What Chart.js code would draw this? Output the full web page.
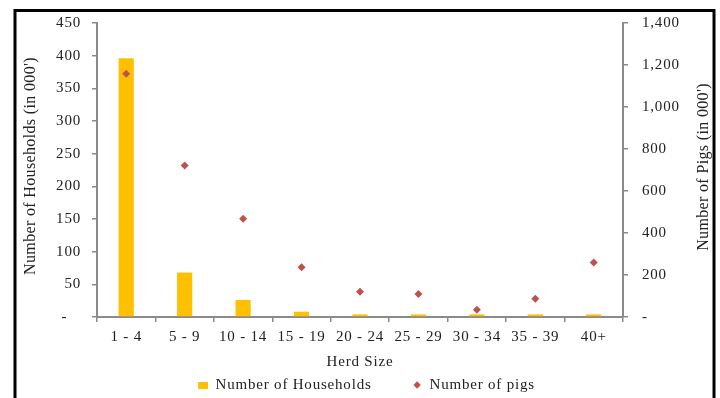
<!DOCTYPE html>
<html><head><meta charset="utf-8">
<script src="https://cdn.jsdelivr.net/npm/chart.js@4.4.1/dist/chart.umd.min.js"></script>
<style>html,body{margin:0;padding:0;background:#fff}#wrap{width:720px;height:398px;position:relative}</style>
</head><body><div id="wrap"><canvas id="c" width="720" height="398"></canvas></div>
<script>
const categories = ['1 - 4','5 - 9','10 - 14','15 - 19','20 - 24','25 - 29','30 - 34','35 - 39','40+'];
const households = [396, 68, 26, 8, 4, 4, 4, 4, 4];
const pigs = [1158, 722, 468, 237, 120, 110, 35, 87, 259];
const leftTickLabels = ['-   ', '50', '100', '150', '200', '250', '300', '350', '400', '450'];
const rightTickLabels = ['-', '200', '400', '600', '800', '1,000', '1,200', '1,400'];
const seriesNames = ['Number of Households', 'Number of pigs'];
const axisTitles = ["Number of Households (in 000')", "Number of Pigs (in 000')", 'Herd Size'];

const barColor = '#FFC000';
const pigColor = '#C0504D';
const axisColor = '#8a8a8a';
const textColor = '#222222';
const FONT = "'Liberation Serif', 'Times New Roman', serif";

function markerCanvas(w, h, draw) { const c = document.createElement('canvas'); c.width = w; c.height = h; draw(c.getContext('2d')); return c; }
// markers sit at the right end of a wider transparent box (adds gap before each legend item)
const rectMarker = markerCanvas(21, 7, g => { g.fillStyle = barColor; g.fillRect(11, 0, 10, 7); });
const diamondMarker = markerCanvas(21, 8, g => { g.fillStyle = pigColor; g.beginPath(); g.moveTo(16, 0.3); g.lineTo(19.7, 4); g.lineTo(16, 7.7); g.lineTo(12.3, 4); g.closePath(); g.fill(); });

const spacingPlugin = {
  id: 'spacing',
  beforeLayout(chart) { chart.ctx.letterSpacing = '0.8px'; },
  beforeDraw(chart) { chart.ctx.letterSpacing = '0.8px'; }
};
const decorPlugin = {
  id: 'decor',
  afterDraw(chart) {
    const ctx = chart.ctx;
    ctx.save();
    ctx.letterSpacing = '0px';
    ctx.strokeStyle = '#000'; ctx.lineWidth = 3;
    ctx.strokeRect(15, 10.5, 699, 500);
    ctx.letterSpacing = '0.35px';
    ctx.fillStyle = textColor;
    ctx.font = "16px " + FONT;
    ctx.textAlign = 'center'; ctx.textBaseline = 'middle';
    [[31, 166, 0], [704, 167, 1]].forEach(([x, y, k]) => {
      ctx.save();
      ctx.translate(x, y);
      ctx.rotate(-Math.PI / 2);
      ctx.fillText(axisTitles[k], 0, 0);
      ctx.restore();
    });
    ctx.restore();
  }
};

new Chart(document.getElementById('c'), {
  type: 'bar',
  data: {
    labels: categories,
    datasets: [
      { type: 'line', label: seriesNames[1], data: pigs, yAxisID: 'y1', showLine: false,
        pointStyle: 'rectRot', pointRadius: 4, pointHoverRadius: 4, backgroundColor: pigColor, borderColor: pigColor, borderWidth: 0, order: 0 },
      { type: 'bar', label: seriesNames[0], data: households, yAxisID: 'y', backgroundColor: barColor,
        categoryPercentage: 1, barPercentage: 0.26, order: 1 }
    ]
  },
  options: {
    responsive: false, animation: false, devicePixelRatio: 1,
    layout: { padding: { left: 2, right: 0, top: 23, bottom: -4.5 } },
    font: { family: FONT },
    plugins: {
      tooltip: { enabled: false },
      legend: {
        position: 'bottom',
        labels: {
          usePointStyle: true, pointStyleWidth: 21, boxHeight: 8, padding: 29.5,
          color: textColor, font: { family: FONT, size: 15 },
          generateLabels: () => [
            { text: seriesNames[0], pointStyle: rectMarker, fillStyle: barColor, strokeStyle: barColor, lineWidth: 0, hidden: false, datasetIndex: 1, fontColor: textColor },
            { text: seriesNames[1], pointStyle: diamondMarker, fillStyle: pigColor, strokeStyle: pigColor, lineWidth: 0, hidden: false, datasetIndex: 0, fontColor: textColor }
          ]
        }
      }
    },
    scales: {
      x: {
        grid: { display: true, drawOnChartArea: false, drawTicks: true, tickLength: 5, color: axisColor, lineWidth: 1.5, offset: true },
        border: { display: true, color: axisColor, width: 2 },
        ticks: { padding: 6, color: textColor, font: { family: FONT, size: 15 }, maxRotation: 0, autoSkip: false },
        title: { display: true, text: axisTitles[2], color: textColor, font: { family: FONT, size: 15 }, padding: { top: 0, bottom: -23 } },
        afterFit(s) { s.height = 31; }
      },
      y: {
        position: 'left', min: 0, max: 450,
        grid: { display: true, drawOnChartArea: false, drawTicks: true, tickLength: 5, color: axisColor, lineWidth: 1.5 },
        border: { display: true, color: axisColor, width: 2 },
        ticks: { stepSize: 50, padding: 11, color: textColor, font: { family: FONT, size: 15 },
          callback: (v, i) => leftTickLabels[i] },
        afterFit(s) { s.width = 95; }
      },
      y1: {
        position: 'right', min: 0, max: 1400,
        grid: { display: true, drawOnChartArea: false, drawTicks: true, tickLength: 5, color: axisColor, lineWidth: 1.5 },
        border: { display: true, color: axisColor, width: 2 },
        ticks: { stepSize: 200, padding: 14, color: textColor, font: { family: FONT, size: 15 },
          callback: (v, i) => rightTickLabels[i] },
        afterFit(s) { s.width = 97; }
      }
    }
  },
  plugins: [spacingPlugin, decorPlugin]
});
</script>
</body></html>
